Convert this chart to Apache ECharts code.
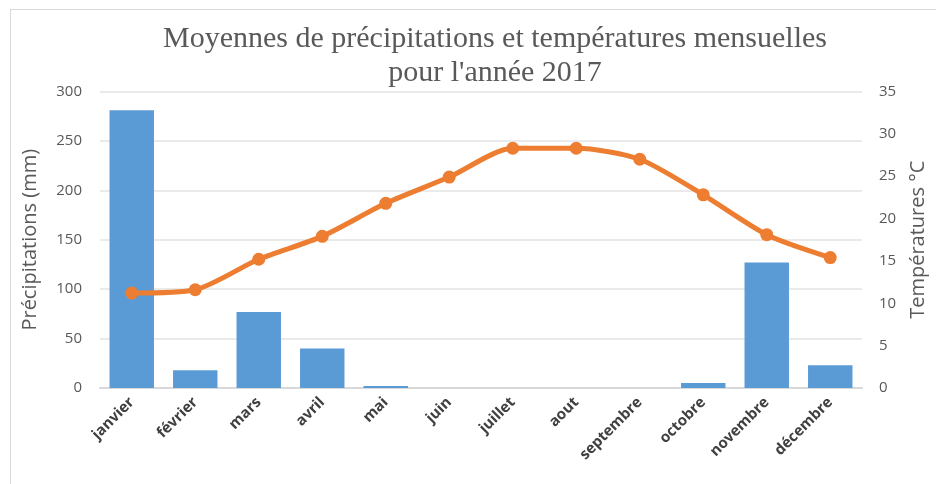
<!DOCTYPE html>
<html>
<head>
<meta charset="utf-8">
<script src="https://cdn.jsdelivr.net/npm/echarts@6/dist/echarts.min.js"></script>
<style>
    html, body { margin: 0; padding: 0; background: #fff; }
    #chart { width: 936px; height: 484px; }
</style>
</head>
<body>
<div id="chart"></div>
<script>
// Précipitations et températures mensuelles 2017

const mois = ['janvier', 'février', 'mars', 'avril', 'mai', 'juin', 'juillet', 'aout', 'septembre', 'octobre', 'novembre', 'décembre'];
const precipitations = [281, 18, 77, 40, 2, 0, 0, 0, 0, 5, 127, 23];
const temperatures = [11.2, 11.6, 15.2, 17.9, 21.8, 24.9, 28.3, 28.3, 27.0, 22.8, 18.1, 15.4];

const gris = '#595959';
const chart = echarts.init(document.getElementById('chart'));

const option = {
    animation: false,
    title: {
        text: "Moyennes de précipitations et températures mensuelles\npour l'année 2017",
        left: 490,
        textAlign: 'center',
        top: 17,
        textStyle: {
            fontFamily: 'Liberation Serif',
            fontWeight: 'normal',
            fontSize: 30,
            lineHeight: 34,
            color: gris
        }
    },
    graphic: [
        { type: 'line', shape: { x1: 10, y1: 9.5, x2: 936, y2: 9.5 }, style: { stroke: '#d9d9d9', lineWidth: 1 } },
        { type: 'line', shape: { x1: 10.5, y1: 9, x2: 10.5, y2: 484 }, style: { stroke: '#d9d9d9', lineWidth: 1 } }
    ],
    grid: {
        left: 100,
        right: 68,
        top: 91.5,
        bottom: 96
    },
    xAxis: {
        type: 'category',
        data: mois,
        axisTick: { show: false },
        axisLine: { lineStyle: { color: '#d9d9d9', width: 2 } },
        axisLabel: {
            rotate: 45,
            interval: 0,
            margin: 12,
            fontFamily: 'Open Sans',
            fontWeight: 'bold',
            fontSize: 15,
            color: '#404040'
        }
    },
    yAxis: [
        {
            type: 'value',
            min: 0,
            max: 300,
            interval: 50,
            name: 'Précipitations (mm)',
            nameLocation: 'middle',
            nameGap: 60,
            nameTextStyle: { fontFamily: 'Open Sans', fontSize: 20, color: gris },
            axisLabel: { fontFamily: 'Open Sans', fontSize: 15, color: gris, margin: 18 },
            splitLine: { lineStyle: { color: '#e3e3e3', width: 1.5 } },
            axisLine: { show: false },
            axisTick: { show: false }
        },
        {
            type: 'value',
            min: 0,
            max: 35,
            interval: 5,
            name: 'Températures °C',
            nameLocation: 'middle',
            nameRotate: 90,
            nameGap: 46,
            nameTextStyle: { fontFamily: 'Open Sans', fontSize: 20, color: gris },
            axisLabel: { fontFamily: 'Open Sans', fontSize: 15, color: gris, margin: 17 },
            splitLine: { show: false },
            axisLine: { show: false },
            axisTick: { show: false }
        }
    ],
    series: [
        {
            name: 'Précipitations',
            type: 'bar',
            yAxisIndex: 0,
            data: precipitations,
            barCategoryGap: '30%',
            itemStyle: { color: '#5b9bd5' }
        },
        {
            name: 'Températures',
            type: 'line',
            yAxisIndex: 1,
            data: temperatures,
            smooth: 0.25,
            symbol: 'circle',
            symbolSize: 13,
            lineStyle: { color: '#ed7d31', width: 5 },
            itemStyle: { color: '#ed7d31' }
        }
    ]
};

chart.setOption(option);
</script>
</body>
</html>
